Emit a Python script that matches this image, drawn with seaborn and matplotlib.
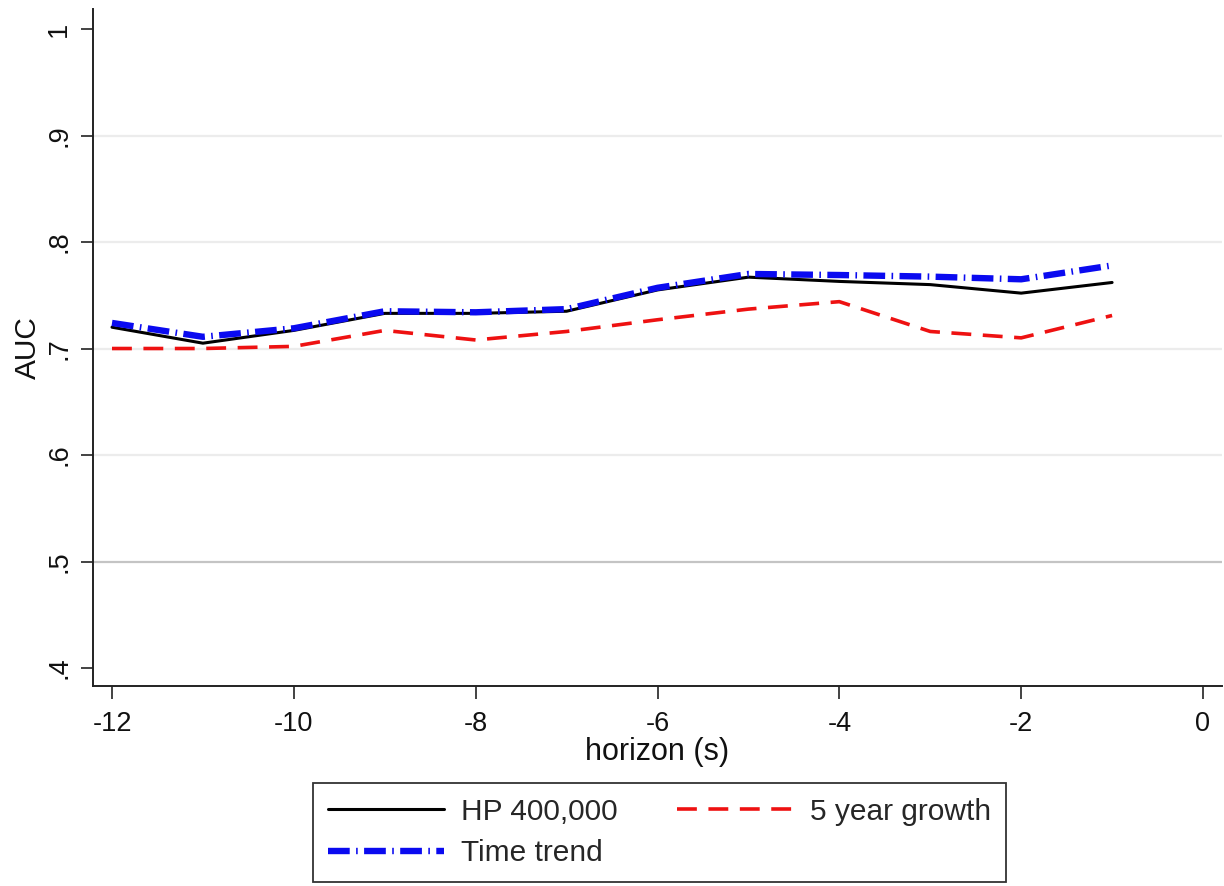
import matplotlib
matplotlib.use("Agg")
import matplotlib.pyplot as plt
import seaborn as sns
import pandas as pd

horizon = [-12, -11, -10, -9, -8, -7, -6, -5, -4, -3, -2, -1]
hp_400k = [0.720, 0.705, 0.717, 0.733, 0.733, 0.735, 0.755, 0.767, 0.763, 0.760, 0.752, 0.762]
growth_5y = [0.700, 0.700, 0.702, 0.717, 0.708, 0.716, 0.727, 0.737, 0.744, 0.716, 0.710, 0.731]
time_trend = [0.724, 0.711, 0.719, 0.735, 0.734, 0.737, 0.757, 0.770, 0.769, 0.7675, 0.765, 0.778]
labels = ["HP 400,000", "5 year growth", "Time trend"]
x_ticks = [-12, -10, -8, -6, -4, -2, 0]
y_ticks = [0.4, 0.5, 0.6, 0.7, 0.8, 0.9, 1.0]
y_ticklabels = [".4", ".5", ".6", ".7", ".8", ".9", "1"]

sns.set_style("white")
plt.rcParams["font.family"] = ["Liberation Sans", "DejaVu Sans"]

fig = plt.figure(figsize=(12.24, 8.86), dpi=100)
ax = fig.add_axes([93 / 1224, 1 - 686 / 886, (1222 - 93) / 1224, (686 - 9) / 886])

# grid lines
for yt in [0.6, 0.7, 0.8, 0.9]:
    ax.axhline(yt, color="#ececec", lw=1.6, zorder=0)
ax.axhline(0.5, color="#c4c4c4", lw=1.6, zorder=0)

df = pd.DataFrame({"horizon": horizon, "hp": hp_400k, "g5": growth_5y, "tt": time_trend})

sns.lineplot(data=df, x="horizon", y="hp", ax=ax, color="black", lw=2.2, label=labels[0], zorder=3)
sns.lineplot(data=df, x="horizon", y="g5", ax=ax, color="#ee1111", lw=2.6, label=labels[1], zorder=3)
sns.lineplot(data=df, x="horizon", y="tt", ax=ax, color="#0a0af0", lw=4.6, label=labels[2], zorder=4)

lines = ax.get_lines()[-3:]
lines[1].set_dashes([5.5, 3.2])
lines[1].set_dash_capstyle("butt")
lines[2].set_dashes([3.4, 1.0, 0.25, 1.0])
lines[2].set_dash_capstyle("butt")

ax.set_xlim(-12.209, 0.209)
ax.set_ylim(0.3831, 1.0188)
ax.set_xticks(x_ticks)
ax.set_xticklabels([str(v) for v in x_ticks])
ax.set_yticks(y_ticks)
ax.set_yticklabels(y_ticklabels, rotation=90, va="center")

for s in ["top", "right"]:
    ax.spines[s].set_visible(False)
for s in ["left", "bottom"]:
    ax.spines[s].set_color("#222222")
    ax.spines[s].set_linewidth(1.4)

ax.tick_params(axis="both", direction="out", length=9, width=1.2, color="#222222",
               labelsize=19.5, labelcolor="#111111", left=True, bottom=True)
ax.tick_params(axis="y", pad=6)
ax.tick_params(axis="x", pad=9)

ax.set_xlabel("horizon (s)", fontsize=22, color="#111111", labelpad=0)
ax.set_ylabel("AUC", fontsize=21.5, color="#111111", labelpad=3)

ax.get_legend().remove()
handles = [lines[0], lines[2], lines[1]]
leg_labels = [labels[0], labels[2], labels[1]]
leg = fig.legend(handles, leg_labels, loc="center", bbox_to_anchor=(659.5 / 1224, 1 - 832.5 / 886),
                 ncol=2, fontsize=21.5, frameon=True, fancybox=False, edgecolor="black",
                 handlelength=3.9, handletextpad=0.55, columnspacing=2.0, labelspacing=0.45,
                 borderpad=0.5)
leg.get_frame().set_linewidth(1.3)

fig.savefig("out.png", dpi=100)
